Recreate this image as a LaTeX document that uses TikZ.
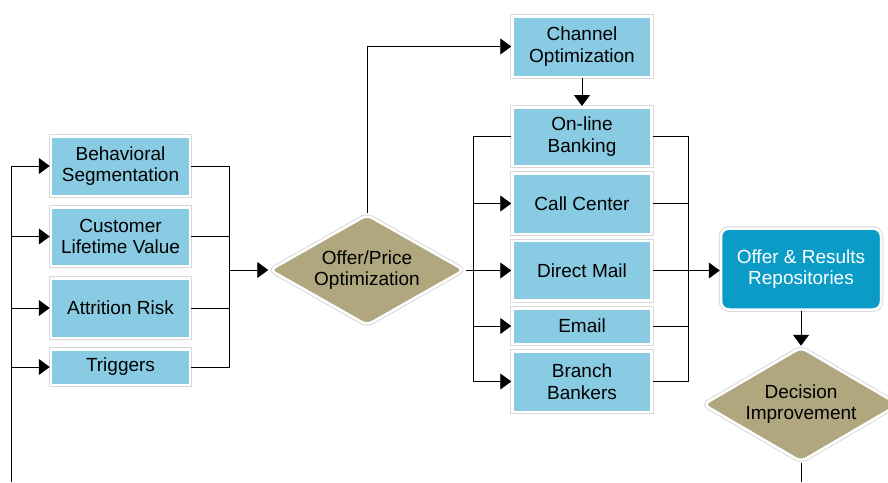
\documentclass[tikz,border=0pt]{standalone}
\usepackage{fontspec}
\setmainfont{Liberation Sans}
\usetikzlibrary{shapes.geometric,arrows.meta}
\definecolor{boxblue}{RGB}{137,203,226}
\definecolor{tanfill}{RGB}{176,167,127}
\definecolor{repoblue}{RGB}{10,156,199}
\tikzset{
 every node/.style={font=\fontsize{19}{21.5}\selectfont, align=center},
 bbox/.style={rectangle, fill=boxblue, draw=white, line width=2.5pt, minimum width=139pt, inner sep=0pt,
   preaction={draw=black!15, line width=4.5pt}},
 dbox/.style={diamond, fill=tanfill, draw=white, line width=2.5pt, rounded corners=6pt, inner sep=0pt,
   shape aspect=1.77, minimum width=195pt, minimum height=111pt,
   preaction={draw=black!15, line width=4.5pt}},
 conn/.style={draw=black, line width=0.9pt},
 arr/.style={conn, -{Triangle[length=11pt,width=16pt]}},
}
\begin{document}
\begin{tikzpicture}[x=1pt,y=-1pt]
\useasboundingbox (0,0) rectangle (888,482);
\clip (0,0) rectangle (888,482);
% left column
\node[bbox, minimum height=59.5pt] (bs) at (120.5,166) {Behavioral\\Segmentation};
\node[bbox, minimum height=58.5pt] (clv) at (120.5,236.5) {Customer\\Lifetime Value};
\node[bbox, minimum height=59.5pt] (ar) at (120.5,308) {Attrition Risk};
\node[bbox, minimum height=35.5pt] (tr) at (120.5,367) {Triggers};
% offer diamond
\node[dbox] (opo) at (367,270) {Offer/Price\\Optimization};
% channels
\node[bbox, minimum height=60.5pt] (co) at (582,46.5) {Channel\\Optimization};
\node[bbox, minimum height=58.5pt] (ob) at (582,136.5) {On-line\\Banking};
\node[bbox, minimum height=60.5pt] (cc) at (582,203.5) {Call Center};
\node[bbox, minimum height=59.5pt] (dm) at (582,270.5) {Direct Mail};
\node[bbox, minimum height=35.5pt] (em) at (582,326) {Email};
\node[bbox, minimum height=60.5pt] (bb) at (582,381.5) {Branch\\Bankers};
% repositories
\node[rectangle, rounded corners=8pt, fill=repoblue, draw=white, line width=2.5pt, inner sep=0pt,
   minimum width=160pt, minimum height=81pt, text=white,
   preaction={draw=black!15, line width=4.5pt}] (rep) at (801,269) {Offer \& Results\\Repositories};
% decision diamond
\node[dbox, minimum width=196pt, minimum height=115pt] (di) at (801,404.5)
  {\raisebox{4pt}{\begin{tabular}{@{}c@{}}Decision\\Improvement\end{tabular}}};
% bus coordinates
\coordinate (lb) at (11,482);
\coordinate (rb) at (229,0);
\coordinate (cb) at (473,0);
\coordinate (db) at (688,0);
\coordinate (bot) at (801,482);
% left bus
\draw[arr] (lb) |- (bs.west);
\draw[arr] (lb |- clv.west) -- (clv.west);
\draw[arr] (lb |- ar.west) -- (ar.west);
\draw[arr] (lb |- tr.west) -- (tr.west);
% right bus of left column
\draw[conn] (bs.east) -| (rb |- tr.east) -- (tr.east);
\draw[conn] (clv.east) -- (rb |- clv.east);
\draw[conn] (ar.east) -- (rb |- ar.east);
\draw[arr] (rb |- opo.west) -- (opo.west);
% offer to channel
\draw[arr] (opo.north) |- (co.west);
\draw[arr] (co.south) -- (ob.north);
% channel left bus
\draw[conn] (opo.east) -- (cb |- opo.east);
\draw[arr] (ob.west) -| (cb |- bb.west) -- (bb.west);
\draw[arr] (cb |- cc.west) -- (cc.west);
\draw[arr] (cb |- dm.west) -- (dm.west);
\draw[arr] (cb |- em.west) -- (em.west);
% channel right bus
\draw[conn] (ob.east) -| (db |- bb.east) -- (bb.east);
\draw[conn] (cc.east) -- (db |- cc.east);
\draw[conn] (em.east) -- (db |- em.east);
\draw[arr] (dm.east) -- (dm.east -| rep.west);
% repositories to decision
\draw[arr] (rep.south) -- (di.north);
\draw[conn] (di.south) -- (bot);
\end{tikzpicture}
\end{document}
